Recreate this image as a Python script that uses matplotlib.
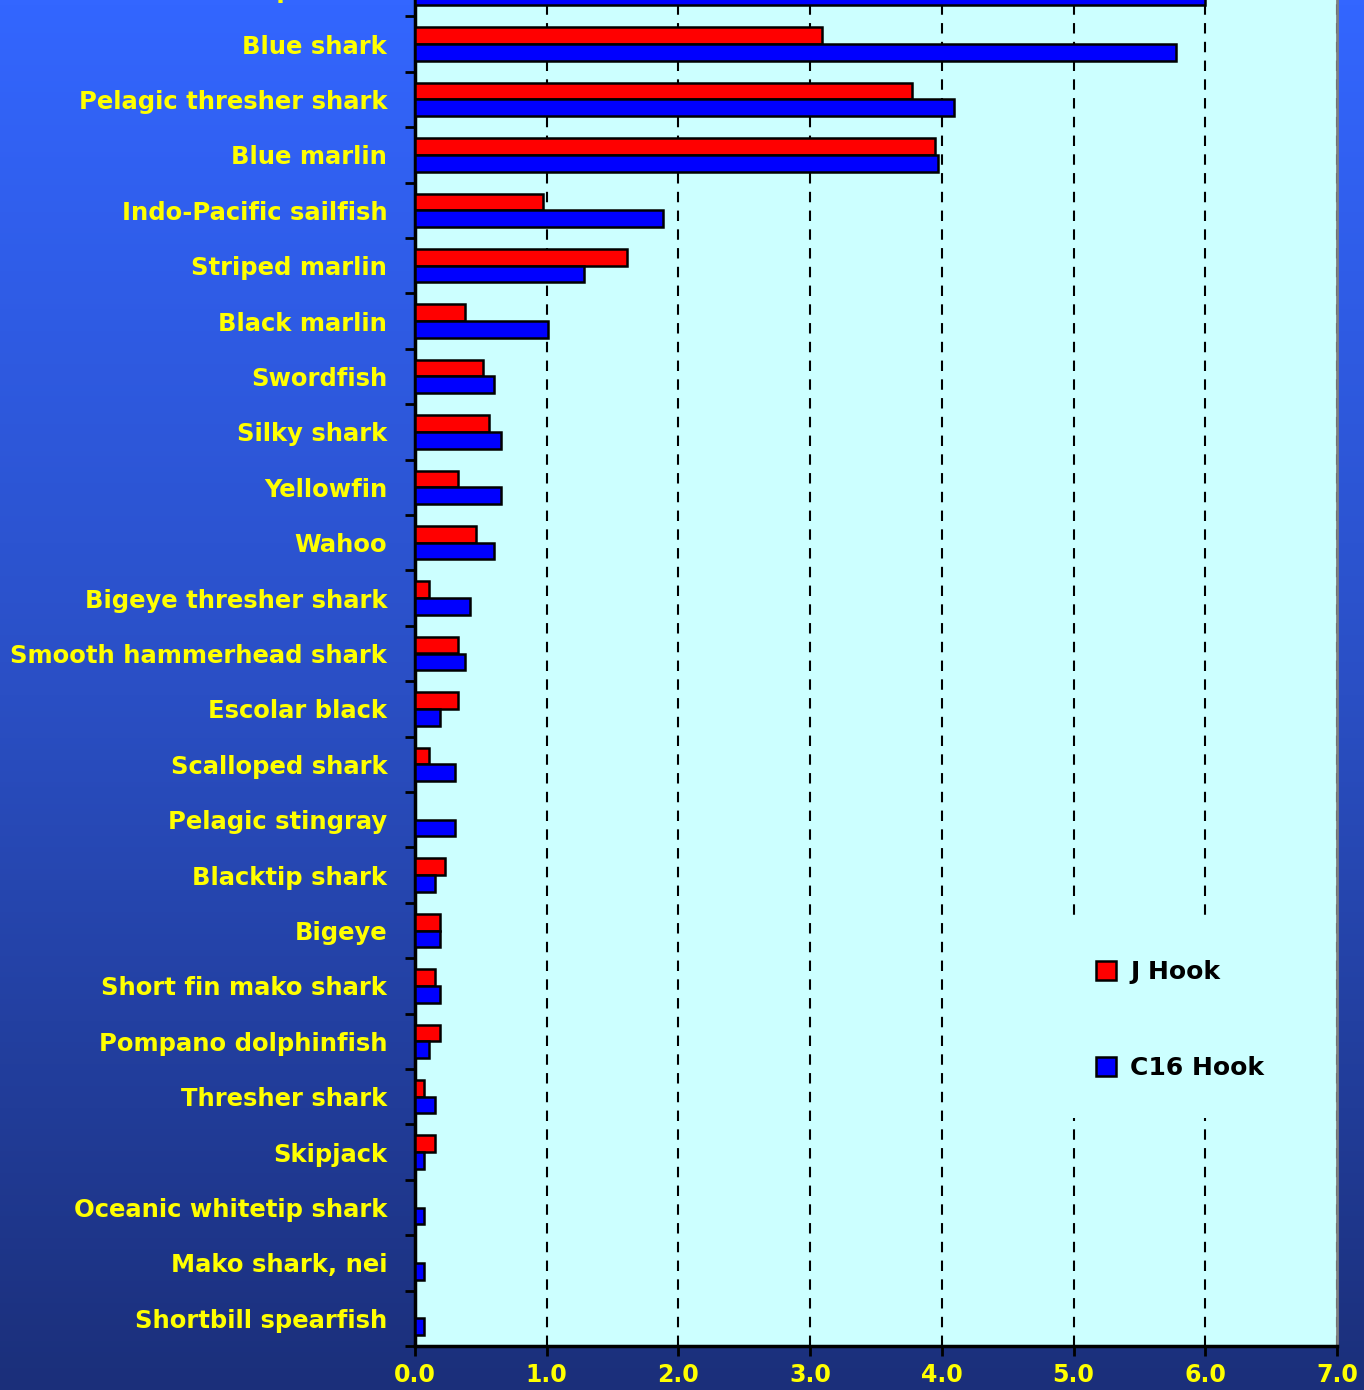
import numpy as np
import matplotlib
matplotlib.use("Agg")
import matplotlib.pyplot as plt
from matplotlib.colors import LinearSegmentedColormap

plt.rcParams["font.family"] = ["DejaVu Sans"]
plt.rcParams["font.weight"] = "bold"

# categories top -> bottom (top one is cut off in the original)
species = [
    "Common dolphinfish", "Blue shark", "Pelagic thresher shark", "Blue marlin",
    "Indo-Pacific sailfish", "Striped marlin", "Black marlin", "Swordfish",
    "Silky shark", "Yellowfin", "Wahoo", "Bigeye thresher shark",
    "Smooth hammerhead shark", "Escolar black", "Scalloped shark",
    "Pelagic stingray", "Blacktip shark", "Bigeye", "Short fin mako shark",
    "Pompano dolphinfish", "Thresher shark", "Skipjack",
    "Oceanic whitetip shark", "Mako shark, nei", "Shortbill spearfish",
]
j_hook = [4.50, 3.09, 3.77, 3.95, 0.97, 1.61, 0.38, 0.52, 0.56, 0.33, 0.46,
          0.11, 0.33, 0.33, 0.11, 0.00, 0.23, 0.19, 0.15, 0.19, 0.07, 0.15,
          0.00, 0.00, 0.00]
c16_hook = [6.00, 5.78, 4.09, 3.97, 1.88, 1.28, 1.01, 0.60, 0.65, 0.65, 0.60,
            0.42, 0.38, 0.19, 0.30, 0.30, 0.15, 0.19, 0.19, 0.11, 0.15, 0.07,
            0.07, 0.07, 0.07]
x_ticks = [0, 1, 2, 3, 4, 5, 6, 7]

W, H = 1364, 1390
fig = plt.figure(figsize=(W / 100, H / 100), dpi=100)

# gradient background
bg = fig.add_axes([0, 0, 1, 1], zorder=-2)
cmap = LinearSegmentedColormap.from_list("bg", ["#3366ff", "#2a4fc4", "#1b2f7a"])
bg.imshow(np.linspace(0, 1, 256).reshape(-1, 1), aspect="auto", cmap=cmap,
          extent=[0, 1, 0, 1])
bg.axis("off")

n = len(species)
row_px = 55.4
bottom_px = H - 1346
left, right = 415 / W, 1337 / W
ax = fig.add_axes([left, bottom_px / H, right - left, n * row_px / H])
ax.set_facecolor("#ccffff")

y = np.arange(n)
h = 0.3
ax.barh(y - h / 2, j_hook, height=h, color="#ff0000", edgecolor="black",
        linewidth=1.8, label="J Hook", zorder=3)
ax.barh(y + h / 2, c16_hook, height=h, color="#0000ff", edgecolor="black",
        linewidth=1.8, label="C16 Hook", zorder=3)

ax.set_xlim(0, 7)
ax.set_ylim(n - 0.5, -0.5)

ax.set_xticks(x_ticks)
ax.set_xticklabels([f"{v:.1f}" for v in x_ticks])
ax.set_yticks(y)
ax.set_yticklabels(species)
ax.set_yticks(np.arange(n + 1) - 0.5, minor=True)

ax.tick_params(axis="y", which="major", length=0, pad=20, labelsize=17.5,
               labelcolor="#ffff00")
ax.tick_params(axis="y", which="minor", length=7, width=2, direction="out",
               color="black")
ax.tick_params(axis="x", length=7, width=2, direction="out", pad=5,
               labelsize=17, labelcolor="#ffff00")

for lab in ax.get_xticklabels() + ax.get_yticklabels():
    lab.set_fontweight("bold")

ax.xaxis.grid(True, linestyle=(0, (5, 4)), color="black", linewidth=1.5, zorder=1)
ax.set_axisbelow(True)

ax.spines["left"].set_linewidth(2.5)
ax.spines["bottom"].set_linewidth(2.5)
ax.spines["top"].set_visible(False)
ax.spines["right"].set_color("#808080")
ax.spines["right"].set_linewidth(2)

leg = ax.legend(loc="center", bbox_to_anchor=(1180 / W, 1 - 1020 / H),
                bbox_transform=fig.transFigure, frameon=True, fancybox=False,
                facecolor="#ccffff", edgecolor="none", framealpha=1,
                handlelength=0.8, handleheight=0.8, handletextpad=0.6,
                labelspacing=2.9, borderpad=1.5,
                prop={"size": 18, "weight": "bold"})
leg.set_zorder(5)

fig.savefig("out.png", dpi=100)
